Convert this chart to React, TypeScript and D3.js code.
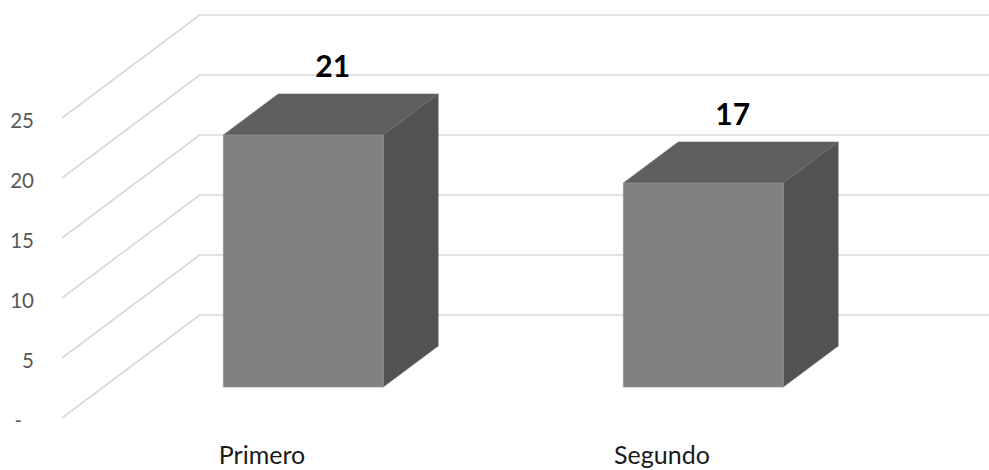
import React from "react";
import * as d3 from "d3";

const categories = ["Primero", "Segundo"];
const values = [21, 17];
const yTicks = [0, 5, 10, 15, 20, 25];

const W = 989;
const H = 470;
const FONT = "Lato, 'Open Sans', sans-serif";

export default function App() {
  const y = d3.scaleLinear().domain([0, 25]).range([418, 118]);
  const x = d3.scaleBand<string>().domain(categories).range([62, 862]).padding(0);
  const DX = 137.5;
  const DY = -103;
  const t0 = 0.3;
  const t1 = 0.7;
  const barW = x.bandwidth() * 0.4;
  const P = (px: number, v: number, t: number): [number, number] => [px + DX * t, y(v) + DY * t];
  const pts = (arr: [number, number][]) => arr.map((p) => p.join(",")).join(" ");
  const fmt = (v: number) => (v === 0 ? "-\u2007" : d3.format("d")(v));

  return (
    <svg width={W} height={H} style={{ position: "absolute", left: 0, top: 0, background: "#fff" }}>
      <g>
        {yTicks.map((v) => {
          const a = P(62, v, 0);
          const b = P(62, v, 1);
          return (
            <polyline
              key={v}
              points={pts([a, b, [W, b[1]]])}
              fill="none"
              stroke="#d9d9d9"
              strokeWidth={1.6}
            />
          );
        })}
      </g>
      <g>
        {yTicks.map((v) => (
          <text
            key={v}
            x={34}
            y={y(v) + 1.5}
            textAnchor="end"
            dominantBaseline="central"
            fontFamily={FONT}
            fontSize={20.5}
            fill="#595959"
          >
            {fmt(v)}
          </text>
        ))}
      </g>
      <g>
        {categories.map((c, i) => {
          const xc = (x(c) as number) + x.bandwidth() / 2;
          const l = xc - barW / 2;
          const r = xc + barW / 2;
          const v = values[i];
          const front: [number, number][] = [P(l, 0, t0), P(r, 0, t0), P(r, v, t0), P(l, v, t0)];
          const top: [number, number][] = [P(l, v, t0), P(r, v, t0), P(r, v, t1), P(l, v, t1)];
          const side: [number, number][] = [P(r, 0, t0), P(r, 0, t1), P(r, v, t1), P(r, v, t0)];
          const lab = P(xc, v, 0.5);
          return (
            <g key={c}>
              <polygon points={pts(side)} fill="#525252" stroke="#6a6a6a" strokeWidth={0.5} />
              <polygon points={pts(top)} fill="#5f5f5f" stroke="#6a6a6a" strokeWidth={0.5} />
              <polygon points={pts(front)} fill="#808080" stroke="#9a9a9a" strokeWidth={0.6} />
              <text
                x={lab[0] + 2}
                y={lab[1] - 38}
                textAnchor="middle"
                fontFamily={FONT}
                fontWeight="bold"
                fontSize={30}
                fill="#000"
              >
                {d3.format("d")(v)}
              </text>
              <text
                x={xc}
                y={464}
                textAnchor="middle"
                fontFamily={FONT}
                fontSize={25}
                fill="#1a1a1a"
              >
                {c}
              </text>
            </g>
          );
        })}
      </g>
    </svg>
  );
}
